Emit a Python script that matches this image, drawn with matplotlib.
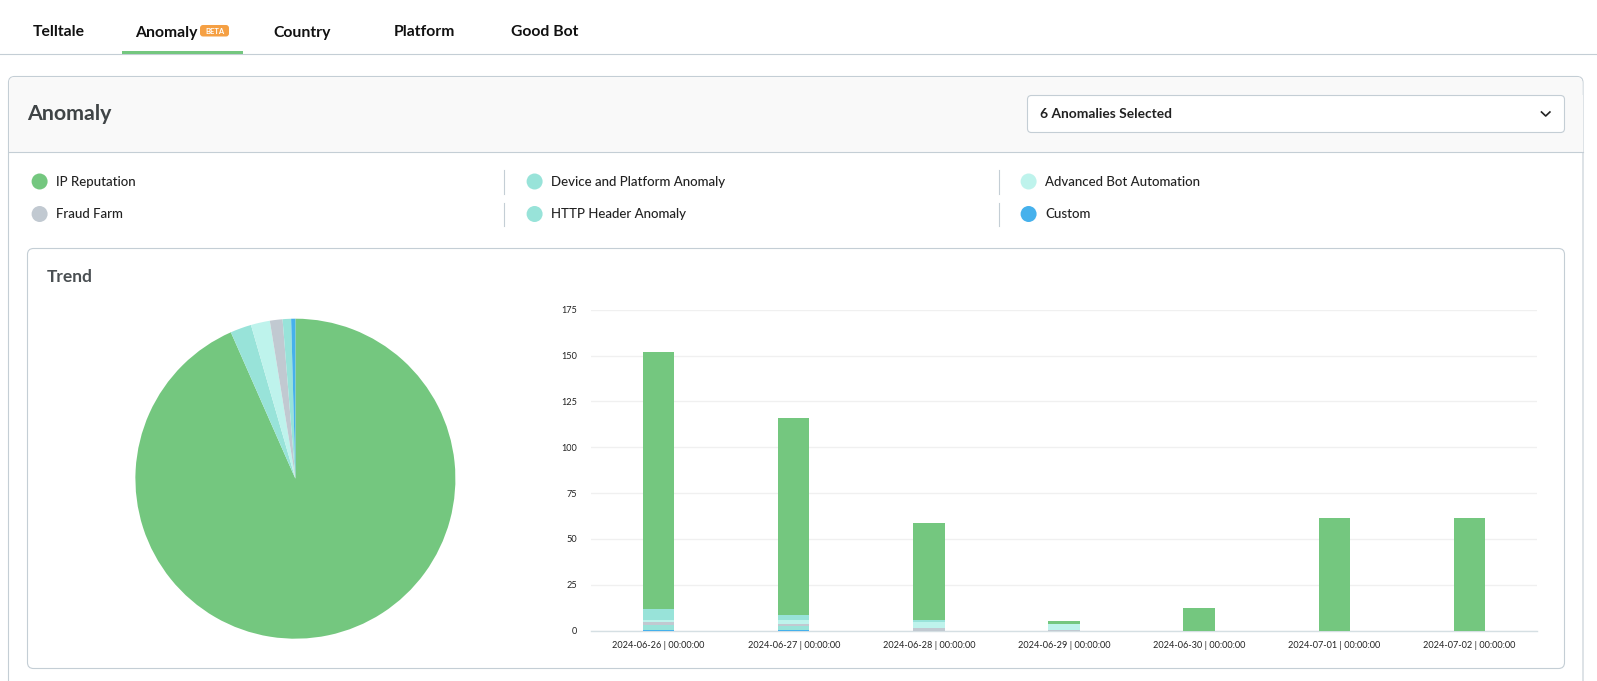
import matplotlib
matplotlib.use('Agg')
import matplotlib.pyplot as plt
from matplotlib.patches import FancyBboxPatch, Rectangle, Circle

plt.rcParams['font.family'] = ['Lato', 'DejaVu Sans']

W, H = 1597, 681

# data
dates = ['2024-06-26 | 00:00:00', '2024-06-27 | 00:00:00', '2024-06-28 | 00:00:00',
         '2024-06-29 | 00:00:00', '2024-06-30 | 00:00:00', '2024-07-01 | 00:00:00',
         '2024-07-02 | 00:00:00']
custom = [0.5, 0.5, 0, 0, 0, 0, 0]
http_header = [2.5, 2.2, 0, 0, 0, 0, 0]
fraud_farm = [1.7, 0.9, 1.6, 0.5, 0, 0, 0]
advanced_bot = [1.1, 2.2, 3.3, 3.1, 0, 0, 0]
device_platform = [5.8, 2.7, 0.9, 0, 0, 0, 0]
ip_reputation = [140.6, 107.2, 52.9, 1.8, 12.3, 61.6, 61.6]
yticks = [0, 25, 50, 75, 100, 125, 150, 175]

pie_labels = ['IP Reputation', 'Device and Platform Anomaly', 'Advanced Bot Automation',
              'Fraud Farm', 'HTTP Header Anomaly', 'Custom']
pie_values = [438, 10, 9, 6, 4, 2]

GREEN = '#74C77F'
TEAL = '#98E3D9'
PALE = '#BEF3EC'
GREY = '#C1C9D1'
BLUE = '#46B1EC'
BORDER = '#C4CED5'
pie_colors = [GREEN, TEAL, PALE, GREY, TEAL, BLUE]

tabs = [('Telltale', 59), ('Anomaly', 166), ('Country', 302), ('Platform', 424), ('Good Bot', 545)]

fig = plt.figure(figsize=(W / 100, H / 100), dpi=100, facecolor='white')

# whole page in pixel coordinates
ui = fig.add_axes([0, 0, 1, 1])
ui.set_xlim(0, W)
ui.set_ylim(H, 0)
ui.axis('off')


def box(x0, y0, x1, y1, r=6, fc='white', ec=BORDER, lw=0.8):
    p = FancyBboxPatch((x0, y0), x1 - x0, y1 - y0, boxstyle=f'round,pad=0,rounding_size={r}',
                       fc=fc, ec=ec, lw=lw)
    ui.add_patch(p)


# tabs
ui.plot([0, W], [54, 54], color=BORDER, lw=0.8)
ui.add_patch(Rectangle((122, 50.5), 121, 3.5, fc=GREEN, ec='none', zorder=3))
for name, x in tabs:
    ui.text(x, 32.5, name, ha='center', va='center', fontsize=11.3, fontweight='bold', color='#111111')
box(200, 25, 229, 36.5, r=3, fc='#F5A044', ec='none')
ui.text(214.5, 31, 'BETA', ha='center', va='center', fontsize=5.5, color='white', fontweight='bold')

# outer card and header
box(8.5, 76.5, 1583, 760)
box(9, 77, 1582.5, 120, fc='#F9F9F9', ec='none')
ui.add_patch(Rectangle((9, 95), 1573.5, 56.5, fc='#F9F9F9', ec='none'))
ui.plot([8.5, 1583], [151.5, 151.5], color=BORDER, lw=0.8)
ui.text(27.5, 114.5, 'Anomaly', ha='left', va='center', fontsize=15.4, fontweight='bold', color='#3F4446')

# dropdown
box(1027.5, 95.5, 1564.5, 132.5, r=4)
ui.text(1040, 114, '6 Anomalies Selected', ha='left', va='center', fontsize=9.9,
        fontweight='bold', color='#222222')
ui.plot([1541.5, 1545.7, 1549.9], [112, 116, 112], color='#222222', lw=1.2)

# legend
col_dot = [39.6, 534.6, 1028.6]
col_txt = [56.4, 551.4, 1045.3]
row_y = [181.5, 214]
legend_order = [0, 1, 2, 3, 4, 5]
for k, idx in enumerate(legend_order):
    c, r = k % 3, k // 3
    ui.add_patch(Circle((col_dot[c], row_y[r]), 8, fc=pie_colors[idx], ec='none'))
    ui.text(col_txt[c], row_y[r] + 0.5, pie_labels[idx], ha='left', va='center', fontsize=9.55,
            color='#222222', fontweight='medium')
for x in [504, 998.5]:
    ui.plot([x, x], [170, 194], color=BORDER, lw=0.8)
    ui.plot([x, x], [203, 226], color=BORDER, lw=0.8)

# inner card
box(27.5, 248.5, 1564.5, 668.5)
ui.text(46.5, 277, 'Trend', ha='left', va='center', fontsize=12.5, fontweight='bold', color='#4A4F52')

# pie
cx, cy, rad = 295.4, 478.7, 160
ax_pie = fig.add_axes([(cx - rad) / W, 1 - (cy + rad) / H, 2 * rad / W, 2 * rad / H])
ax_pie.pie(pie_values, colors=pie_colors, startangle=90, counterclock=False, radius=1,
           wedgeprops={'linewidth': 0})
ax_pie.set_xlim(-1, 1)
ax_pie.set_ylim(-1, 1)

# stacked bars
x0, x1, y_top, y_base = 591, 1537, 309.7, 630.7
ax = fig.add_axes([x0 / W, 1 - y_base / H, (x1 - x0) / W, (y_base - y_top) / H])
ax.patch.set_alpha(0)
positions = range(len(dates))
bottom = [0] * len(dates)
series = [(custom, BLUE), (http_header, TEAL), (fraud_farm, GREY), (advanced_bot, PALE),
          (device_platform, TEAL), (ip_reputation, GREEN)]
for vals, col in series:
    ax.bar(positions, vals, width=0.2325, bottom=bottom, color=col, linewidth=0, zorder=3)
    bottom = [b + v for b, v in zip(bottom, vals)]
ax.set_xlim(-0.5, 6.5)
ax.set_ylim(0, 175)
ax.set_yticks(yticks)
ax.set_xticks(list(positions))
ax.set_xticklabels(dates)
ax.grid(axis='y', color='#F0F0F0', lw=1, zorder=0)
ax.tick_params(length=0, labelsize=6.6, labelcolor='#222222')
ax.tick_params(axis='x', pad=7.5)
ax.tick_params(axis='y', pad=10)
for s in ['top', 'left', 'right']:
    ax.spines[s].set_visible(False)
ax.spines['bottom'].set_color('#D5DFE3')
ax.spines['bottom'].set_linewidth(1)

fig.savefig('out.png', dpi=100)
